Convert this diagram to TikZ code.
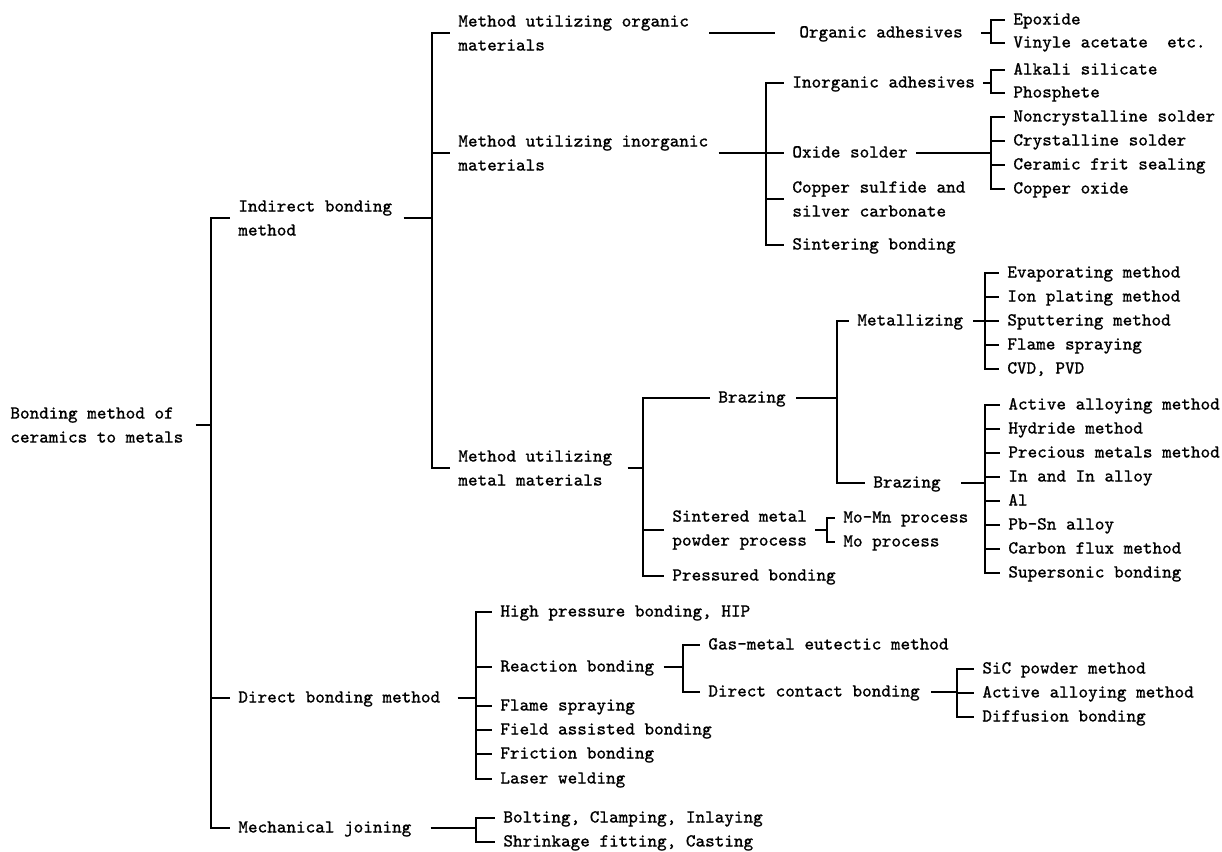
\documentclass[tikz,border=0pt]{standalone}
\usepackage{fontspec}
\usepackage{tikz}
\usetikzlibrary{positioning}
\newfontfamily\typefont[FakeBold=0.6]{Latin Modern Mono}

\tikzset{
  lbl/.style={font=\typefont\fontsize{9.15}{12}\selectfont,inner xsep=4pt,inner ysep=0pt,
    text height=6pt,text depth=1.5pt,anchor=west},
  lbltwo/.style={font=\typefont\fontsize{9.15}{12}\selectfont,inner xsep=4pt,inner ysep=0pt,
    align=left,anchor=west},
  br/.style={line width=0.9pt}
}

\begin{document}
\begin{tikzpicture}[x=0.5pt,y=-0.5pt,line cap=butt,line join=miter]
\useasboundingbox (0,0) rectangle (1222,852);
% root and first level
\node[lbltwo] (root) at (2,425) {Bonding method of\\ceramics to metals};
\node[lbltwo] (ind) at (230,218) {Indirect bonding\\method};
\node[lbl] (dir) at (230,698) {Direct bonding method};
\node[lbl] (mech) at (230,828) {Mechanical joining};
\coordinate (j0) at (211,425);
\draw[br] ([xshift=2pt]root.east) -- (j0);
\foreach \c in {ind,dir,mech} \draw[br] (j0) |- (\c.west);

% indirect bonding
\node[lbltwo] (org) at (450,33) {Method utilizing organic\\materials};
\node[lbltwo] (inorg) at (450,153) {Method utilizing inorganic\\materials};
\node[lbltwo] (metal) at (450,468) {Method utilizing\\metal materials};
\coordinate (j1) at (432,218);
\draw[br] ([xshift=1.5pt]ind.east) -- (j1);
\foreach \c in {org,inorg,metal} \draw[br] (j1) |- (\c.west);

% organic materials
\node[lbl] (orgad) at (791,33) {Organic adhesives};
\draw[br] ([xshift=6pt]org.east) -- ([xshift=-8pt]orgad.west);
\node[lbl] (epox) at (1005,20) {Epoxide};
\node[lbl] (viny) at (1005,43) {Vinyle acetate\ \ etc.};
\coordinate (j2) at (991,33);
\draw[br] ([xshift=5pt]orgad.east) -- (j2);
\foreach \c in {epox,viny} \draw[br] (j2) |- (\c.west);

% inorganic materials
\node[lbl] (inad) at (784,83) {Inorganic adhesives};
\node[lbl] (oxs) at (784,153) {Oxide solder};
\node[lbltwo] (cusil) at (784,199) {Copper sulfide and\\silver carbonate};
\node[lbl] (sint) at (784,245) {Sintering bonding};
\coordinate (j3) at (766,153);
\draw[br] ([xshift=1pt]inorg.east) -- (j3);
\foreach \c in {inad,oxs,cusil,sint} \draw[br] (j3) |- (\c.west);

\node[lbl] (alk) at (1005,70) {Alkali silicate};
\node[lbl] (phos) at (1005,93) {Phosphete};
\coordinate (j4) at (991,83);
\draw[br] (inad.east) -- (j4);
\foreach \c in {alk,phos} \draw[br] (j4) |- (\c.west);

\node[lbl] (noncr) at (1005,117) {Noncrystalline solder};
\node[lbl] (cryst) at (1005,141) {Crystalline solder};
\node[lbl] (frit) at (1005,165) {Ceramic frit sealing};
\node[lbl] (cuox) at (1005,189) {Copper oxide};
\coordinate (j5) at (991,153);
\draw[br] (oxs.east) -- (j5);
\foreach \c in {noncr,cryst,frit,cuox} \draw[br] (j5) |- (\c.west);

% metal materials
\node[lbl] (braz) at (710,398) {Brazing};
\node[lbltwo] (sinter) at (664,530) {Sintered metal\\powder process};
\node[lbl] (press) at (664,576) {Pressured bonding};
\coordinate (j6) at (643,468);
\draw[br] ([xshift=3.5pt]metal.east) -- (j6);
\foreach \c in {braz,sinter,press} \draw[br] (j6) |- (\c.west);

\node[lbl] (metz) at (849,321) {Metallizing};
\node[lbl] (brazb) at (865,483) {Brazing};
\coordinate (j7) at (837,398);
\draw[br] ([xshift=1pt]braz.east) -- (j7);
\foreach \c in {metz,brazb} \draw[br] (j7) |- (\c.west);

\node[lbl] (evap) at (999,273) {Evaporating method};
\node[lbl] (ionp) at (999,297) {Ion plating method};
\node[lbl] (sput) at (999,321) {Sputtering method};
\node[lbl] (flmz) at (999,345) {Flame spraying};
\node[lbl] (cvd) at (999,369) {CVD, PVD};
\coordinate (j8) at (985,321);
\draw[br] ([xshift=1pt]metz.east) -- (j8);
\foreach \c in {evap,ionp,sput,flmz,cvd} \draw[br] (j8) |- (\c.west);

\node[lbl] (actv) at (1000,405) {Active alloying method};
\node[lbl] (hydr) at (1000,429) {Hydride method};
\node[lbl] (prec) at (1000,453) {Precious metals method};
\node[lbl] (inal) at (1000,477) {In and In alloy};
\node[lbl] (alum) at (1000,501) {Al};
\node[lbl] (pbsn) at (1000,525) {Pb-Sn alloy};
\node[lbl] (carb) at (1000,549) {Carbon flux method};
\node[lbl] (supr) at (1000,573) {Supersonic bonding};
\coordinate (j9) at (985,483);
\draw[br] ([xshift=6pt]brazb.east) -- (j9);
\foreach \c in {actv,hydr,prec,inal,alum,pbsn,carb,supr} \draw[br] (j9) |- (\c.west);

\node[lbl] (momn) at (835,518) {Mo-Mn process};
\node[lbl] (mopr) at (835,542) {Mo process};
\coordinate (j10) at (827,530);
\draw[br] (sinter.east) -- (j10);
\foreach \c in {momn,mopr} \draw[br] (j10) |- (\c.west);

% direct bonding
\node[lbl] (hip) at (492,612) {High pressure bonding, HIP};
\node[lbl] (react) at (492,667) {Reaction bonding};
\node[lbl] (flms) at (492,706) {Flame spraying};
\node[lbl] (field) at (492,730) {Field assisted bonding};
\node[lbl] (fric) at (492,754) {Friction bonding};
\node[lbl] (laser) at (492,779) {Laser welding};
\coordinate (j11) at (476,698);
\draw[br] ([xshift=4.5pt]dir.east) -- (j11);
\foreach \c in {hip,react,flms,field,fric,laser} \draw[br] (j11) |- (\c.west);

\node[lbl] (gasm) at (700,645) {Gas-metal eutectic method};
\node[lbl] (dcont) at (700,692) {Direct contact bonding};
\coordinate (j12) at (683,667);
\draw[br] ([xshift=0.5pt]react.east) -- (j12);
\foreach \c in {gasm,dcont} \draw[br] (j12) |- (\c.west);

\node[lbl] (sic) at (974,669) {SiC powder method};
\node[lbl] (actb) at (974,693) {Active alloying method};
\node[lbl] (diff) at (974,717) {Diffusion bonding};
\coordinate (j13) at (957,692);
\draw[br] ([xshift=1.5pt]dcont.east) -- (j13);
\foreach \c in {sic,actb,diff} \draw[br] (j13) |- (\c.west);

% mechanical joining
\node[lbl] (bolt) at (495,818) {Bolting, Clamping, Inlaying};
\node[lbl] (shrk) at (495,842) {Shrinkage fitting, Casting};
\coordinate (j14) at (476,828);
\draw[br] ([xshift=5.5pt]mech.east) -- (j14);
\foreach \c in {bolt,shrk} \draw[br] (j14) |- (\c.west);
\end{tikzpicture}
\end{document}
